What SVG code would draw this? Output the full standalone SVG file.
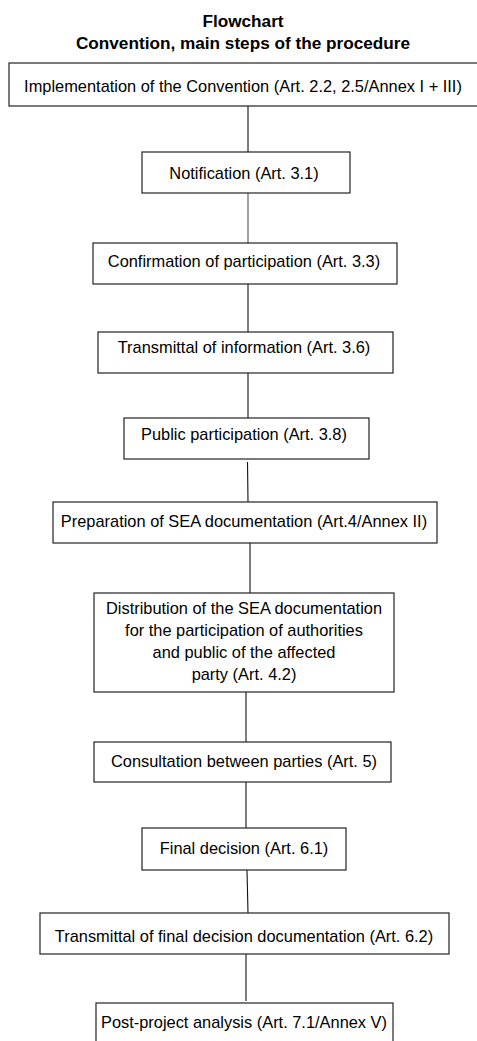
<svg xmlns="http://www.w3.org/2000/svg" width="477" height="1041" viewBox="0 0 477 1041">
  <style>
    .title { font-family: "Liberation Sans", Arial, sans-serif; font-weight: bold; font-size: 17.2px; fill: #000; text-anchor: middle; }
    .box { fill: #fff; stroke: #222; stroke-width: 1.2; }
    .lbl { font-family: "Liberation Sans", Arial, sans-serif; font-size: 16.4px; fill: #000; text-anchor: middle; }
    .conn line { stroke: #111; stroke-width: 1.1; }
  </style>
  <rect width="477" height="1041" fill="#fff"/>
  <g id="title">
    <text class="title" x="243" y="27">Flowchart</text>
    <text class="title" x="243" y="49">Convention, main steps of the procedure</text>
  </g>
  <g id="connectors" class="conn">
    <line x1="248" y1="106" x2="248" y2="152"/>
    <line x1="248" y1="193" x2="248" y2="243" style="stroke:#555"/>
    <line x1="248" y1="284" x2="248" y2="332"/>
    <line x1="248" y1="373" x2="248" y2="418"/>
    <line x1="247.5" y1="462" x2="248" y2="502"/>
    <line x1="250" y1="543" x2="250" y2="593"/>
    <line x1="246" y1="692" x2="246" y2="742"/>
    <line x1="246" y1="782" x2="246" y2="830"/>
    <line x1="247" y1="870" x2="248" y2="913"/>
    <line x1="246" y1="952" x2="246" y2="1001"/>
  </g>
  <g id="n1">
    <rect class="box" x="9" y="63" width="472" height="43"/>
    <text class="lbl" x="243" y="92">Implementation of the Convention (Art. 2.2, 2.5/Annex I + III)</text>
  </g>
  <g id="n2">
    <rect class="box" x="142" y="152" width="208" height="41"/>
    <text class="lbl" x="244" y="179">Notification (Art. 3.1)</text>
  </g>
  <g id="n3">
    <rect class="box" x="93" y="243" width="304" height="41"/>
    <text class="lbl" x="244" y="267">Confirmation of participation (Art. 3.3)</text>
  </g>
  <g id="n4">
    <rect class="box" x="98" y="332" width="295" height="41"/>
    <text class="lbl" x="244" y="353">Transmittal of information (Art. 3.6)</text>
  </g>
  <g id="n5">
    <rect class="box" x="124" y="418" width="245" height="41"/>
    <text class="lbl" x="244" y="440">Public participation (Art. 3.8)</text>
  </g>
  <g id="n6">
    <rect class="box" x="53" y="502" width="384" height="41"/>
    <text class="lbl" x="244" y="527">Preparation of SEA documentation (Art.4/Annex II)</text>
  </g>
  <g id="n7">
    <rect class="box" x="94" y="593" width="300" height="99"/>
    <text class="lbl" x="244" y="614">Distribution of the SEA documentation</text>
    <text class="lbl" x="244" y="636">for the participation of authorities</text>
    <text class="lbl" x="244" y="658">and public of the affected</text>
    <text class="lbl" x="244" y="680">party (Art. 4.2)</text>
  </g>
  <g id="n8">
    <rect class="box" x="94" y="742" width="297" height="40"/>
    <text class="lbl" x="244" y="767">Consultation between parties (Art. 5)</text>
  </g>
  <g id="n9">
    <rect class="box" x="142" y="828" width="204" height="42"/>
    <text class="lbl" x="244" y="854">Final decision (Art. 6.1)</text>
  </g>
  <g id="n10">
    <rect class="box" x="40" y="913" width="409" height="41"/>
    <text class="lbl" x="244" y="942">Transmittal of final decision documentation (Art. 6.2)</text>
  </g>
  <g id="n11">
    <rect class="box" x="96" y="1003" width="297" height="60"/>
    <text class="lbl" x="244" y="1028">Post-project analysis (Art. 7.1/Annex V)</text>
  </g>
</svg>
